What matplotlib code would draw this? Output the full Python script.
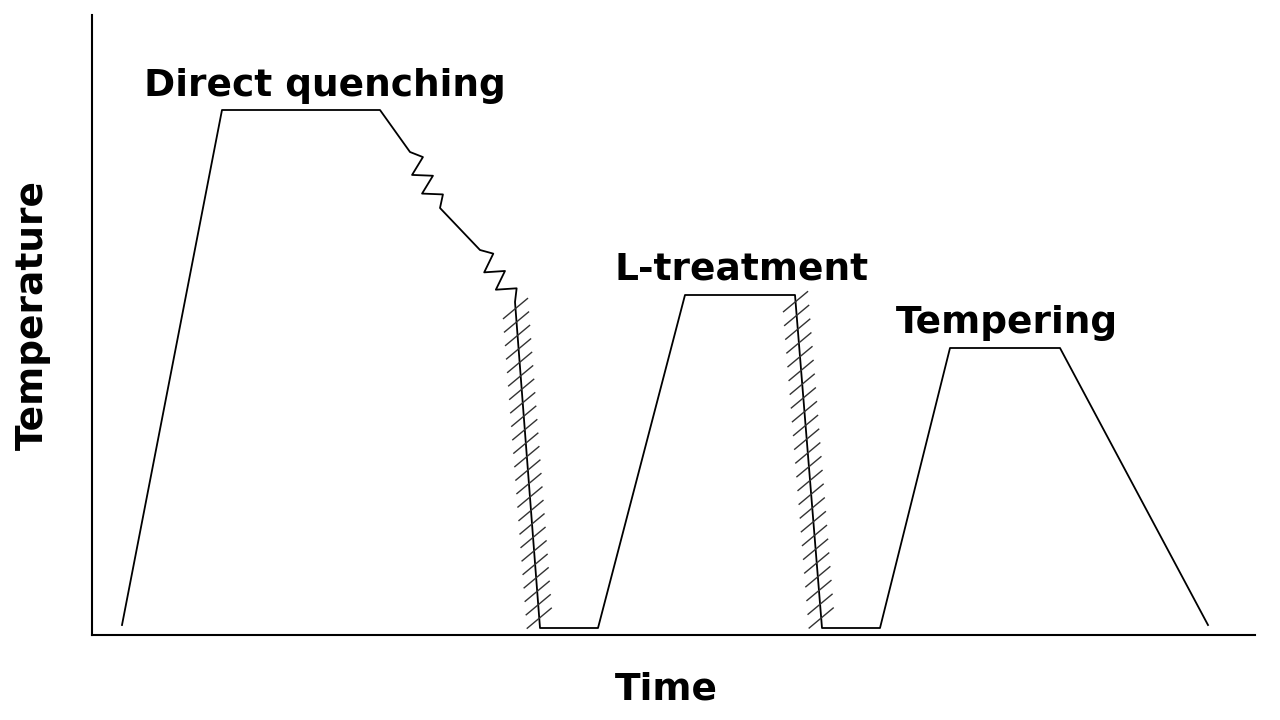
import matplotlib
matplotlib.use("Agg")
import matplotlib.pyplot as plt
import numpy as np

# schematic profile (time, temperature) in canvas units
time = [122, 222, 380, 410, 440, 480, 515, 540, 598, 685, 795, 822, 880, 950, 1060, 1208]
temp = [625, 110, 110, 152, 208, 250, 302, 628, 628, 295, 295, 628, 628, 348, 348, 625]
zigzag_segments = [(3, 4), (5, 6)]
hatch_segments = [(6, 7), (10, 11)]
labels = ["Direct quenching", "L-treatment", "Tempering"]
label_pos = [(325, 86), (742, 270), (1007, 323)]

fig = plt.figure(figsize=(12.8, 7.2), dpi=100)
ax = fig.add_axes([0, 0, 1, 1])
ax.set_xlim(0, 1280)
ax.set_ylim(720, 0)
ax.axis("off")

def zig(p0, p1, n=3, amp=9):
    p0, p1 = np.array(p0, float), np.array(p1, float)
    d = p1 - p0
    L = np.hypot(*d)
    u = d / L
    nrm = np.array([-u[1], u[0]])
    pts = [p0]
    k = 2 * n
    for i in range(1, k):
        s = (-1) ** i
        pts.append(p0 + d * i / k + nrm * amp * s)
    pts.append(p1)
    return np.array(pts)

xs, ys = [time[0]], [temp[0]]
for i in range(1, len(time)):
    if (i - 1, i) in zigzag_segments:
        z = zig((time[i-1], temp[i-1]), (time[i], temp[i]))
        xs += list(z[1:, 0]); ys += list(z[1:, 1])
    else:
        xs.append(time[i]); ys.append(temp[i])
ax.plot(xs, ys, color="black", lw=1.3)

for a, b in hatch_segments:
    x0, y0, x1, y1 = time[a], temp[a], time[b], temp[b]
    for t in np.linspace(0.02, 0.97, 24):
        cx, cy = x0 + (x1 - x0) * t, y0 + (y1 - y0) * t
        ax.plot([cx - 12, cx + 12], [cy + 10, cy - 10], color="#333333", lw=1.0)

# axes lines
ax.plot([92, 92], [15, 635], color="black", lw=1.5)
ax.plot([92, 1255], [635, 635], color="black", lw=1.5)

fp = dict(family="DejaVu Sans", fontweight="bold", fontsize=27)
for s, (x, y) in zip(labels, label_pos):
    ax.text(x, y, s, ha="center", va="center", **fp)
ax.text(666, 690, "Time", ha="center", va="center", **fp)
ax.text(33, 315, "Temperature", ha="center", va="center", rotation=90, **fp)

fig.savefig("out.png", dpi=100)
